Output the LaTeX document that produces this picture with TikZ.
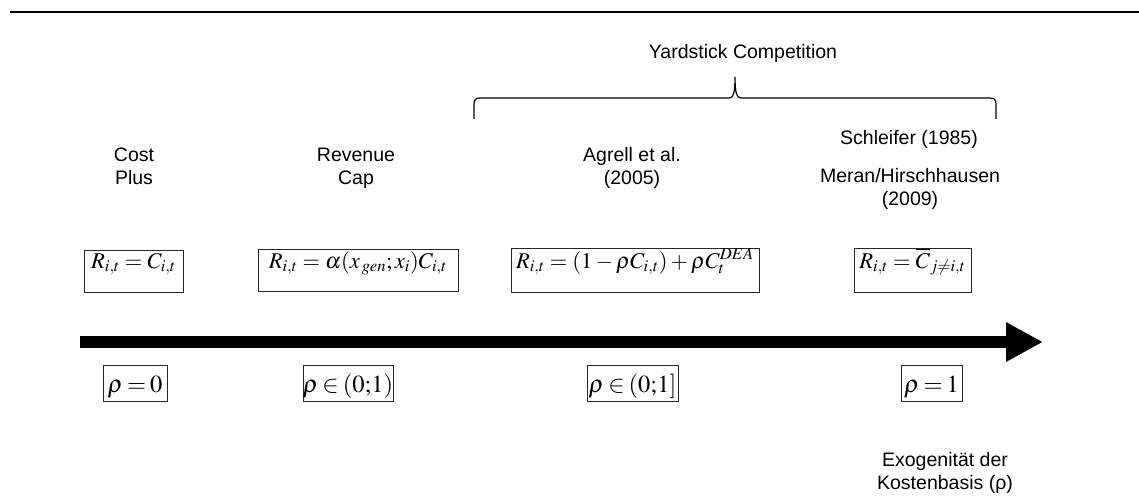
\documentclass[tikz,border=0pt]{standalone}
\usepackage{mathptmx}
\usepackage[no-math]{fontspec}
\setmainfont{Liberation Sans}
\usetikzlibrary{arrows.meta}
\newcommand{\rhosp}{\thickmuskip=3mu plus 1mu\thinmuskip=1mu}
\tikzset{
  lbl/.style={font=\fontsize{19.5}{23}\selectfont, align=center, inner sep=0pt},
  fbox/.style={draw=black!85, line width=0.9pt, inner sep=0pt, minimum height=42pt},
  rbox/.style={draw=black!85, line width=0.9pt, inner sep=0pt, minimum height=36pt},
  fmath/.style={font=\fontsize{22.5}{26}\selectfont, inner sep=0pt, anchor=base},
  rmath/.style={font=\fontsize{24.5}{28}\selectfont\rhosp, inner sep=0pt, anchor=base},
  topline/.style={line width=2.6pt, black},
  bracestyle/.style={line width=1.2pt, black},
  axis/.style={line width=12pt, black, -{Triangle[length=37pt, width=37pt]}}
}
\begin{document}
\begin{tikzpicture}[x=1pt, y=-1pt]
\useasboundingbox (0,0) rectangle (1139,497);

% top rule
\coordinate (tl) at (10,12);
\coordinate (tr) at (1139,12);
\draw[topline] (tl) -- (tr);

% heading and brace
\node[lbl] (yard) at (743,54.4) {\strut Yardstick Competition};
\draw[bracestyle] (474,119) -- (474,104) .. controls (474,99.5) and (476,98) .. (480,98)
  -- (729,98) .. controls (733,98) and (735,94) .. (735,77)
  .. controls (735,94) and (737,98) .. (741,98)
  -- (990,98) .. controls (994,98) and (996,99.5) .. (996,104) -- (996,119);

% column labels
\node[lbl] (cost) at (134,167.9) {\strut Cost\\Plus\strut};
\node[lbl] (rev) at (356,167.9) {\strut Revenue\\Cap\strut};
\node[lbl] (agr) at (632,167.9) {\strut Agrell et al.\\(2005)\strut};
\node[lbl] (schl) at (909,140.4) {\strut Schleifer (1985)};
\node[lbl] (meran) at (910,188.9) {\strut Meran/Hirschhausen\\(2009)\strut};

% formula boxes
\node[fbox, minimum width=99pt] (f1) at (133.5,271) {};
\node[fmath] (f1t) at (133.5,268) {$R_{i,t}=C_{i,t}$};
\node[fbox, minimum width=200pt] (f2) at (358,270.5) {};
\node[fmath] (f2t) at (358,268) {$R_{i,t}=\alpha(x_{\,gen};x_i)C_{i,t}$};
\node[fbox, minimum width=248pt, minimum height=44pt] (f3) at (635,270) {};
\node[fmath] (f3t) at (635,268) {$R_{i,t}=(1-\rho C_{i,t})+\rho C_t^{DEA}$};
\node[fbox, minimum width=117pt, minimum height=44pt] (f4) at (912.5,270) {};
\node[fmath] (f4t) at (912.5,268) {$R_{i,t}=\overline{C}_{j\neq i,t}$};

% axis arrow
\coordinate (axs) at (80,342);
\coordinate (axe) at (1043,342);
\draw[axis] (axs) -- (axe);

% rho boxes
\node[rbox, minimum width=64pt] (r1) at (135,383) {};
\node[rmath] (r1t) at (135,392) {$\rho=0$};
\node[rbox, minimum width=90pt] (r2) at (348,383) {};
\node[rmath] (r2t) at (348,392) {$\rho\in(0{;}1)$};
\node[rbox, minimum width=91pt] (r3) at (632.5,383) {};
\node[rmath] (r3t) at (632.5,392) {$\rho\in(0{;}1]$};
\node[rbox, minimum width=61pt] (r4) at (931.5,383) {};
\node[rmath] (r4t) at (931.5,392) {$\rho=1$};

% axis caption
\node[lbl] (exo) at (945,472.9) {\strut Exogenit\"at der\\Kostenbasis (ρ)\strut};
\end{tikzpicture}
\end{document}
